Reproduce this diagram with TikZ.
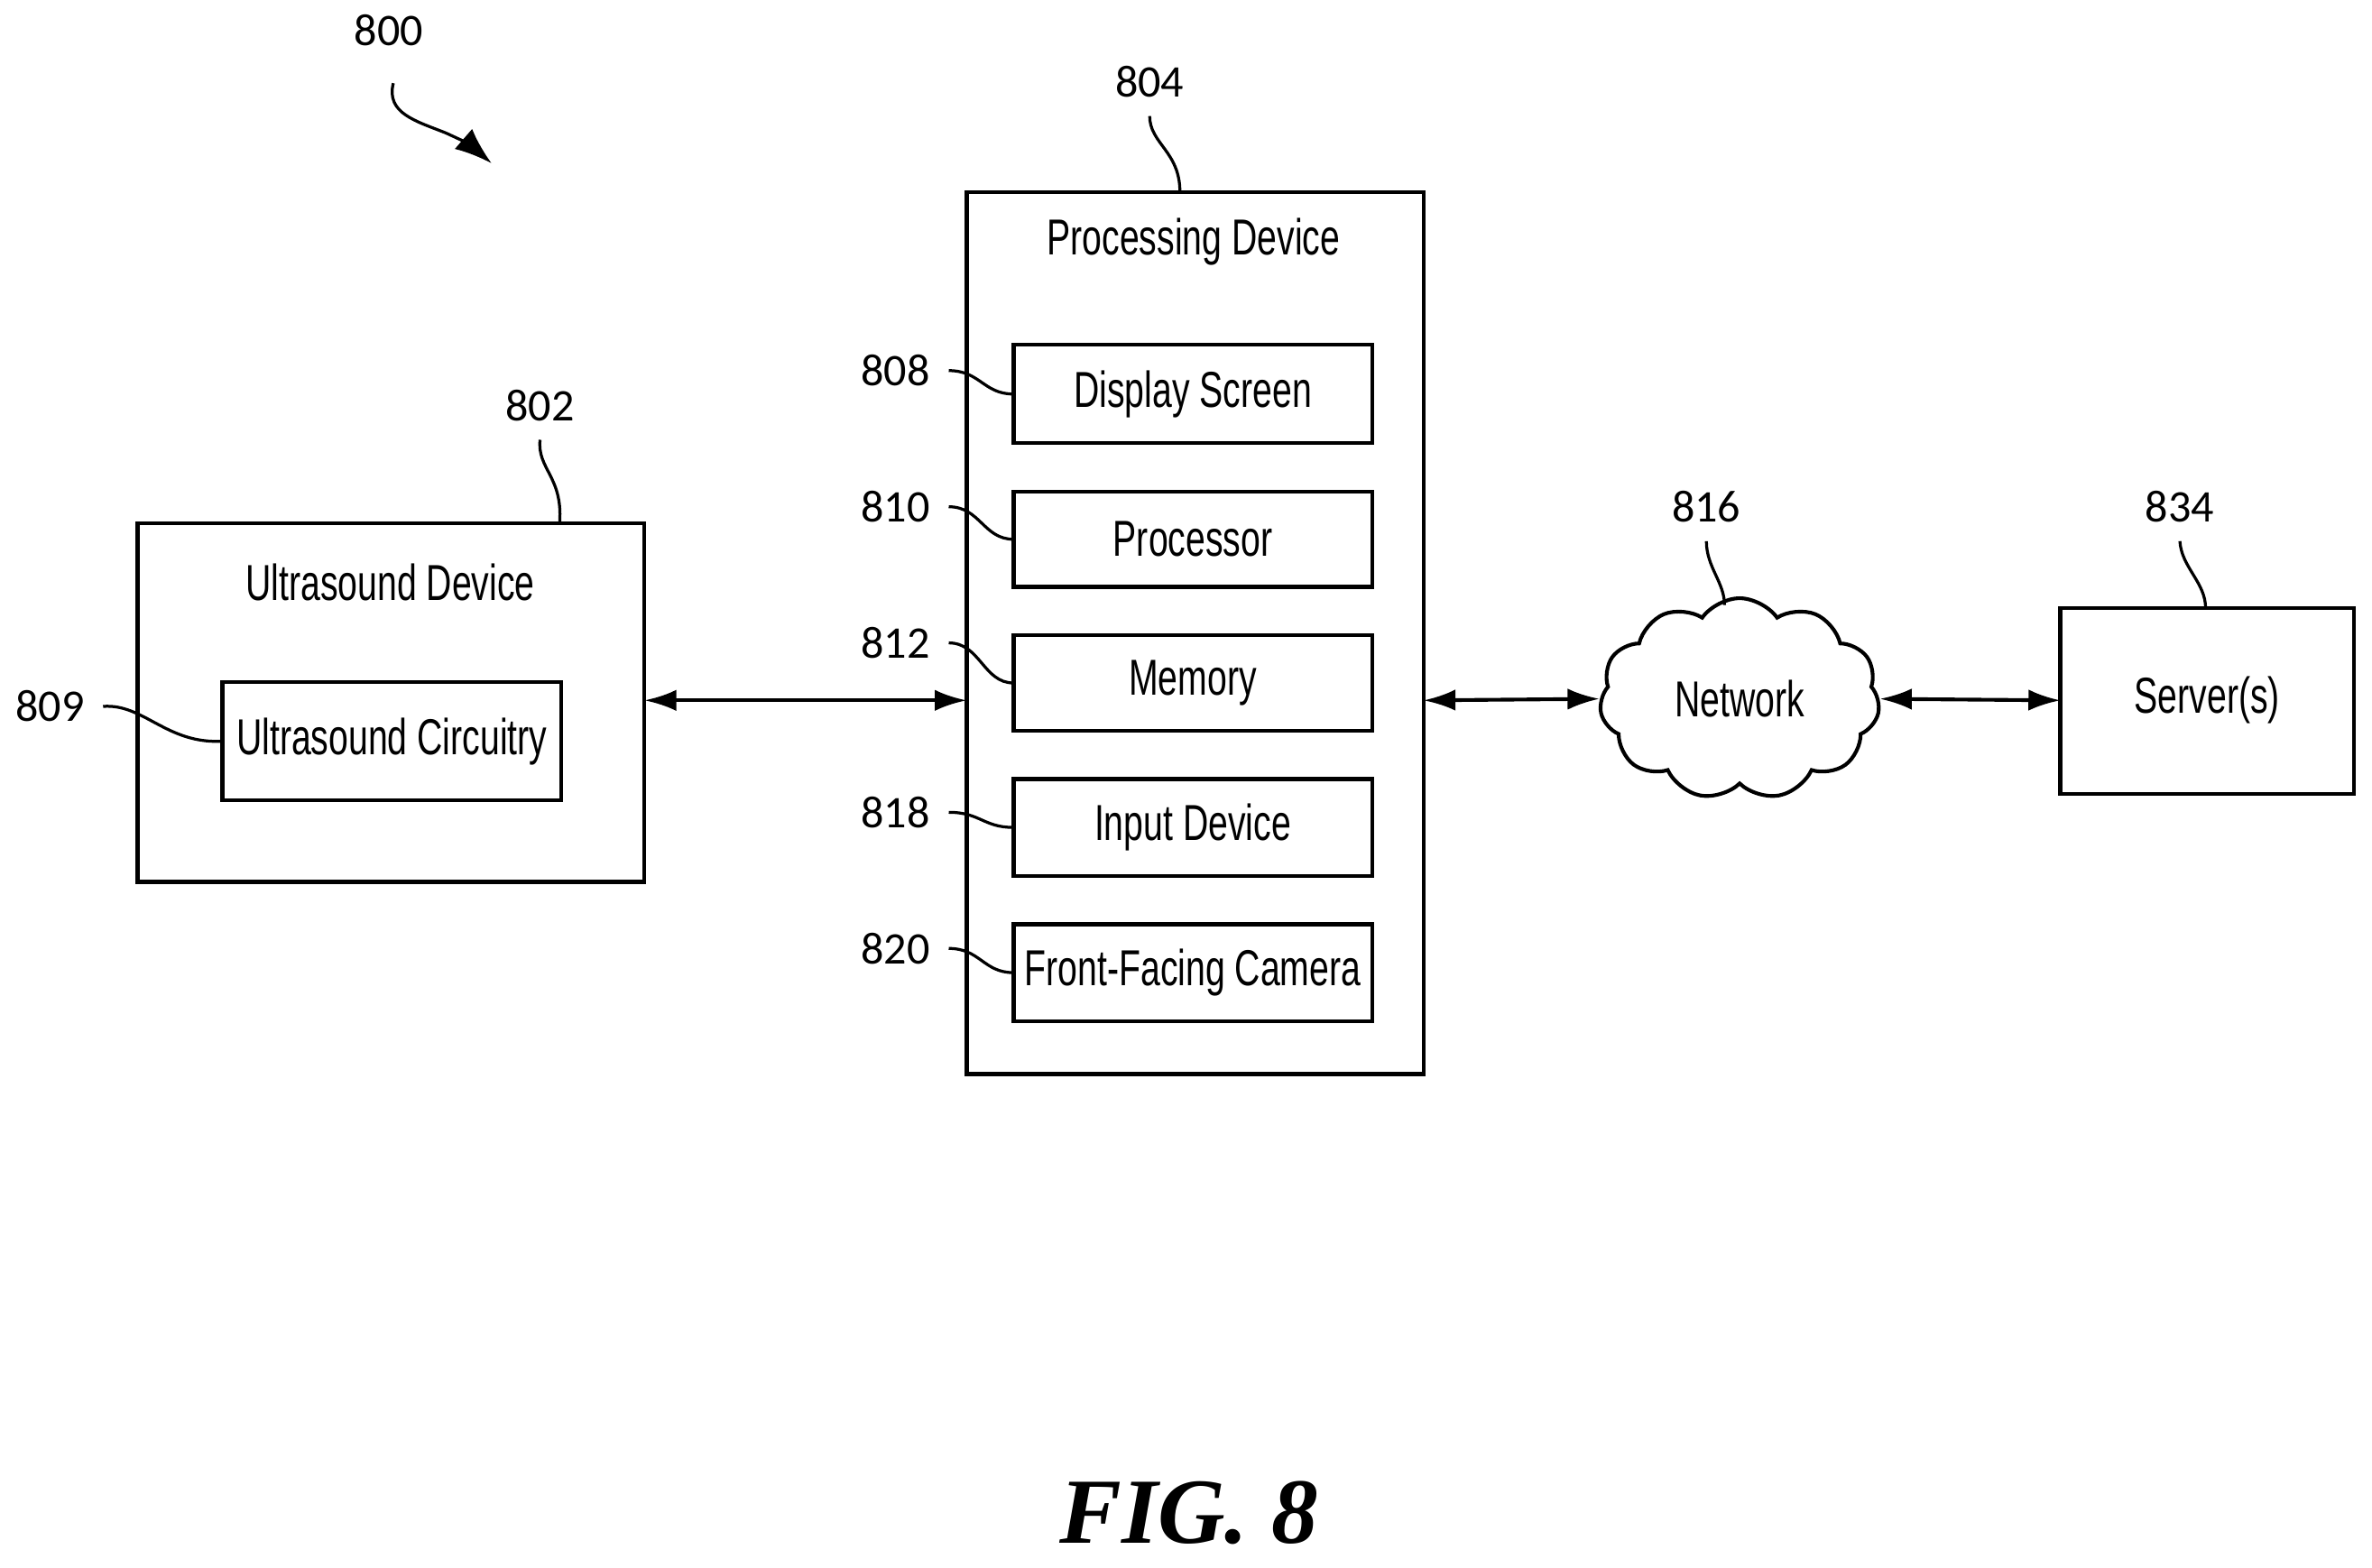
\documentclass[tikz,border=0pt]{standalone}
\usepackage{fontspec}
\setmainfont{Liberation Serif}
\setsansfont{Liberation Sans}[FakeStretch=0.7]
\newfontfamily\numfont{Carlito}
\usetikzlibrary{shapes.symbols,arrows.meta}
\begin{document}
\begin{tikzpicture}[x=0.01cm,y=-0.01cm,
  bx/.style={line width=0.75pt},
  txt/.style={font=\sffamily\fontsize{9.5}{11}\selectfont},
  num/.style={font=\numfont\fontsize{8.5}{10}\selectfont},
  lead/.style={line width=0.55pt},
  dbl/.style={line width=0.7pt,{Latex[length=6pt,width=4pt]}-{Latex[length=6pt,width=4pt]}}]
\useasboundingbox (0,0) rectangle (1568,1036);
% 800
\node[num] (n800) at (257,20) {800};
\coordinate (a800) at (325,108);
\draw[lead,-{Latex[length=7pt,width=5pt]}] (260,55) .. controls (255,75) and (275,80) .. (295,88) .. controls (310,95) .. (a800);
% Ultrasound device
\draw[bx] (91,346) rectangle (426,583);
\coordinate (udE) at (426,463);
\node[txt] (udt) at (258,385) {Ultrasound Device};
\draw[bx] (147,451) rectangle (371,529);
\node[txt] (uc) at (259,490) {Ultrasound Circuitry};
\coordinate (ucW) at (147,490);
\node[num] (n802) at (357,268) {802};
\coordinate (ud802) at (370,345);
\draw[lead] (ud802) .. controls (372,315) and (355,310) .. (n802.south);
\node[num] (n809) at (33,467) {809};
\draw[lead] (n809.east) .. controls (95,465) and (110,492) .. (ucW);
% Processing device
\draw[bx] (639,127) rectangle (941,710);
\coordinate (pdW) at (639,463);
\coordinate (pdE) at (941,463);
\coordinate (pdN) at (780,127);
\node[txt] (pdt) at (789,160) {Processing Device};
\node[num] (n804) at (760,54) {804};
\draw[lead] (n804.south) .. controls (760,95) and (780,100) .. (pdN);
\foreach \nm/\t/\b/\lab/\ly in {ds/228/293/808/245,pr/325/388/810/335,me/420/483/812/425,in/515/579/818/537,fc/611/675/820/627}{
  \draw[bx] (670,\t) rectangle (907,\b);
  \coordinate (\nm W) at (670,{(\t+\b)/2});
  \node[num] (n\lab) at (592,\ly) {\lab};
  \draw[lead] (n\lab.east) .. controls (648,\ly) and (650,{(\t+\b)/2}) .. (\nm W);
}
\node[txt] at (788.5,260.5) {Display Screen};
\node[txt] at (788.5,356.5) {Processor};
\node[txt] at (788.5,451.5) {Memory};
\node[txt] at (788.5,547) {Input Device};
\node[txt] at (788.5,643) {Front-Facing Camera};
% cloud
\node[cloud,draw,line width=0.7pt,cloud puffs=11,cloud puff arc=110,aspect=1.4,minimum width=1.85cm,minimum height=1.33cm,txt] (net) at (1150,462) {Network};
\node[num] (n816) at (1128,335) {816};
\draw[lead] (n816.south) .. controls (1128,375) and (1140,385) .. (1140,400);
% server
\draw[bx] (1362,402) rectangle (1556,525);
\coordinate (svW) at (1362,463);
\node[txt] (sv) at (1459,463) {Server(s)};
\node[num] (n834) at (1441,335) {834};
\draw[lead] (n834.south) .. controls (1442,375) and (1458,385) .. (1458,402);
% arrows
\draw[dbl] (udE) -- (pdW);
\draw[dbl] (pdE) -- (net.west);
\draw[dbl] (net.east) -- (svW);
\node[font=\bfseries\itshape\fontsize{17.5}{21}\selectfont] (fig) at (786,1000) {FIG. 8};
\end{tikzpicture}
\end{document}
